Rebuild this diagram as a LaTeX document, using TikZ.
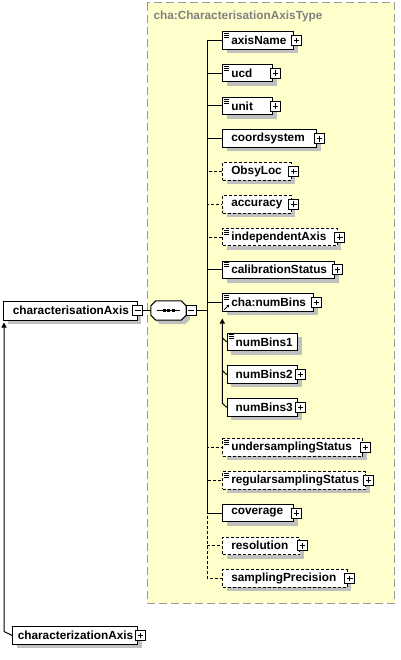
\documentclass[tikz,border=0pt]{standalone}
\usepackage{fontspec}
\setmainfont{Liberation Sans}
\usetikzlibrary{shadows,arrows.meta}
\definecolor{bgY}{HTML}{FFFFCC}
\definecolor{frameG}{HTML}{999999}
\definecolor{shadowG}{HTML}{C0C0C0}
\definecolor{titleG}{HTML}{808080}
\newcommand{\lbl}{\fontsize{11.8}{13}\selectfont\bfseries}
\tikzset{
 shd/.style={drop shadow={shadow xshift=4pt,shadow yshift=-4pt,fill=shadowG,opacity=1}},
 el/.style={draw,fill=white,line width=1pt,inner sep=0pt,minimum height=17.5pt,anchor=west,align=left,font=\lbl,shd},
 opt/.style={el,dash pattern=on 3pt off 2pt},
 docmark/.style={path picture={\foreach \k in {1.8pt,3.8pt,5.8pt}
  \draw[solid,line width=.9pt] ([xshift=1.5pt,yshift=-\k]path picture bounding box.north west) -- ++(5pt,0);}},
 eld/.style={el,docmark},
 optd/.style={opt,docmark},
 docref/.style={el,path picture={\foreach \k in {1.8pt,3.8pt,5.8pt}
  \draw[solid,line width=.9pt] ([xshift=1.5pt,yshift=-\k]path picture bounding box.north west) -- ++(5pt,0);
  \draw[solid,line width=.9pt,-{Triangle[length=2.5pt,width=3pt]}] ([xshift=1.5pt,yshift=1.5pt]path picture bounding box.south west) -- ++(5pt,5pt);}},
 plus/.style={draw,fill=white,line width=.8pt,minimum size=10pt,inner sep=0pt,
  path picture={\draw[line width=.8pt] ([xshift=-2.8pt]path picture bounding box.center) -- ++(5.6pt,0)
   ([yshift=-2.8pt]path picture bounding box.center) -- ++(0,5.6pt);}},
 minus/.style={draw,fill=white,line width=.8pt,minimum size=10pt,inner sep=0pt,
  path picture={\draw[line width=.8pt] ([xshift=-2.8pt]path picture bounding box.center) -- ++(5.6pt,0);}},
 conn/.style={line width=1pt},
 optconn/.style={line width=1pt,dash pattern=on 3pt off 2pt},
 link/.style={line width=1pt,-{Triangle[length=5pt,width=5pt]}},
}
\begin{document}
\begin{tikzpicture}[x=1pt,y=-1pt]
\path[use as bounding box] (0,0) rectangle (400,660);
% ---------- type frame
\draw[frameG,fill=bgY,line width=1pt,dash pattern=on 8pt off 4pt] (147,3) rectangle (394.5,603);
\node[anchor=west,font=\lbl,text=titleG,inner sep=0pt] (ttl) at (153.3,16) {cha:CharacterisationAxisType};
% ---------- root element and sequence
\node[el,text width=133.4pt,minimum height=19pt] (charAx) at (3.3,310.5) {\hspace*{9pt}characterisationAxis};
\node[minus] (charAx-m) at (charAx.east) {};
\node[inner sep=0pt,minimum width=35pt,minimum height=19pt] (seq) at (168.5,310.5) {};
\draw[line width=1pt,fill=white,shd] ([xshift=5pt]seq.north west) -- ([xshift=-5pt]seq.north east) -- ([yshift=-5pt]seq.north east)
 -- ([yshift=5pt]seq.south east) -- ([xshift=-5pt]seq.south east) -- ([xshift=5pt]seq.south west)
 -- ([yshift=5pt]seq.south west) -- ([yshift=-5pt]seq.north west) -- cycle;
\draw[line width=1pt] ([xshift=-11.5pt]seq.center) -- ([xshift=11.5pt]seq.center);
\foreach \d in {-4.5pt,0pt,4.5pt} \fill ([xshift=\d]seq.center) +(-1.5pt,-1.5pt) rectangle +(1.5pt,1.5pt);
\node[minus] (seq-m) at ([xshift=5pt]seq.east) {};
\coordinate (jn) at (207.7,310.5);
\draw[conn] (charAx-m) -- (seq);
\draw[conn] (seq-m) -- (jn);
% ---------- children of the sequence
\foreach \nm/\yy/\w/\sty/\cn in {axisName/40.5/71/eld/conn, ucd/73.25/50/eld/conn, unit/106/50/eld/conn,
 coordsystem/138.75/94/el/conn, ObsyLoc/171.5/68.5/opt/optconn, accuracy/204.25/68.5/opt/optconn,
 independentAxis/237/114.5/optd/optconn, calibrationStatus/269.75/112/eld/conn,
 undersamplingStatus/447.5/140/optd/optconn, regularsamplingStatus/480.25/143/optd/optconn,
 coverage/513/71/el/conn, resolution/545.75/77/opt/optconn, samplingPrecision/578.5/124.5/opt/optconn}{
 \node[\sty,text width=\w pt] (\nm) at (222.3,\yy) {\hspace*{8.5pt}\nm};
 \node[plus] (\nm-p) at ([xshift=2pt]\nm.east) {};
 \draw[\cn] (jn) |- (\nm.west);}
% ---------- numBins and its substitutes
\node[docref,text width=91pt] (numBins) at (222.3,302.5) {\hspace*{8.5pt}cha:numBins};
\node[plus] (numBins-p) at ([xshift=2pt]numBins.east) {};
\draw[conn] (jn) |- (numBins.west);
\node[eld,text width=70.6pt] (numBins1) at (226.7,341.8) {\hspace*{8.5pt}numBins1};
\node[el,text width=70.6pt] (numBins2) at (226.7,374.55) {\hspace*{8.5pt}numBins2};
\node[plus] (numBins2-p) at ([xshift=2pt]numBins2.east) {};
\node[el,text width=70.6pt] (numBins3) at (226.7,407.3) {\hspace*{8.5pt}numBins3};
\node[plus] (numBins3-p) at ([xshift=2pt]numBins3.east) {};
\coordinate (nbTip) at (222.3,318.5);
\draw[link] (numBins3.west) -- ++(-4.4,-4) -- (nbTip);
\draw[conn] (numBins1.west) -- ++(-4.4,-4);
\draw[conn] (numBins2.west) -- ++(-4.4,-4);
% ---------- substitution head
\node[el,text width=125pt] (charzAx) at (12.3,635.5) {\hspace*{5pt}characterizationAxis};
\node[plus] (charzAx-p) at ([xshift=2pt]charzAx.east) {};
\coordinate (upTip) at (4,322.5);
\draw[link] (charzAx.west) -- ++(-8.3,-4) -- (upTip);
\end{tikzpicture}
\end{document}
